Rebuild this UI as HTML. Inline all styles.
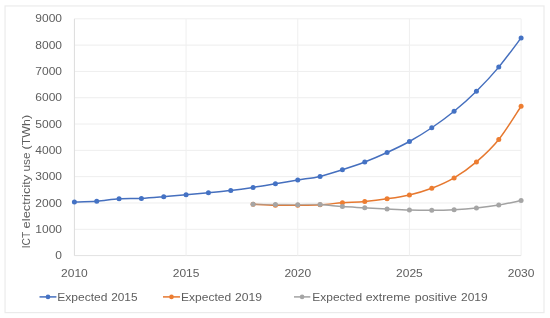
<!DOCTYPE html>
<html><head><meta charset="utf-8"><title>chart</title>
<style>
html,body{margin:0;padding:0;background:#fff;}
body{width:550px;height:318px;overflow:hidden;}
svg{display:block;filter:blur(0.35px);}
.t{font-family:"Liberation Sans",sans-serif;font-size:11.8px;fill:#5e5e5e;}
</style></head><body>
<svg width="550" height="318" viewBox="0 0 550 318">
<rect x="0" y="0" width="550" height="318" fill="#ffffff"/>
<rect x="5.05" y="5.95" width="538.95" height="306.65" fill="#fff" stroke="#ebebeb" stroke-width="1.2"/>
<line x1="74.40" y1="255.60" x2="521.10" y2="255.60" stroke="#e2e2e2" stroke-width="1"/>
<line x1="74.40" y1="229.29" x2="521.10" y2="229.29" stroke="#eeeeee" stroke-width="1"/>
<line x1="74.40" y1="202.98" x2="521.10" y2="202.98" stroke="#eeeeee" stroke-width="1"/>
<line x1="74.40" y1="176.67" x2="521.10" y2="176.67" stroke="#eeeeee" stroke-width="1"/>
<line x1="74.40" y1="150.36" x2="521.10" y2="150.36" stroke="#eeeeee" stroke-width="1"/>
<line x1="74.40" y1="124.04" x2="521.10" y2="124.04" stroke="#eeeeee" stroke-width="1"/>
<line x1="74.40" y1="97.73" x2="521.10" y2="97.73" stroke="#eeeeee" stroke-width="1"/>
<line x1="74.40" y1="71.42" x2="521.10" y2="71.42" stroke="#eeeeee" stroke-width="1"/>
<line x1="74.40" y1="45.11" x2="521.10" y2="45.11" stroke="#eeeeee" stroke-width="1"/>
<line x1="74.40" y1="18.80" x2="521.10" y2="18.80" stroke="#eeeeee" stroke-width="1"/>
<line x1="74.40" y1="18.80" x2="74.40" y2="255.60" stroke="#dcdcdc" stroke-width="1"/>
<line x1="186.07" y1="18.80" x2="186.07" y2="255.60" stroke="#efefef" stroke-width="1"/>
<line x1="297.75" y1="18.80" x2="297.75" y2="255.60" stroke="#efefef" stroke-width="1"/>
<line x1="409.43" y1="18.80" x2="409.43" y2="255.60" stroke="#efefef" stroke-width="1"/>
<line x1="521.10" y1="18.80" x2="521.10" y2="255.60" stroke="#efefef" stroke-width="1"/>
<text x="55.33" y="259.20" class="t" textLength="6.67" lengthAdjust="spacingAndGlyphs">0</text>
<text x="35.30" y="232.89" class="t" textLength="26.70" lengthAdjust="spacingAndGlyphs">1000</text>
<text x="35.30" y="206.58" class="t" textLength="26.70" lengthAdjust="spacingAndGlyphs">2000</text>
<text x="35.30" y="180.27" class="t" textLength="26.70" lengthAdjust="spacingAndGlyphs">3000</text>
<text x="35.30" y="153.96" class="t" textLength="26.70" lengthAdjust="spacingAndGlyphs">4000</text>
<text x="35.30" y="127.64" class="t" textLength="26.70" lengthAdjust="spacingAndGlyphs">5000</text>
<text x="35.30" y="101.33" class="t" textLength="26.70" lengthAdjust="spacingAndGlyphs">6000</text>
<text x="35.30" y="75.02" class="t" textLength="26.70" lengthAdjust="spacingAndGlyphs">7000</text>
<text x="35.30" y="48.71" class="t" textLength="26.70" lengthAdjust="spacingAndGlyphs">8000</text>
<text x="35.30" y="22.40" class="t" textLength="26.70" lengthAdjust="spacingAndGlyphs">9000</text>
<text x="61.05" y="277.4" class="t" textLength="26.7" lengthAdjust="spacingAndGlyphs">2010</text>
<text x="172.72" y="277.4" class="t" textLength="26.7" lengthAdjust="spacingAndGlyphs">2015</text>
<text x="284.40" y="277.4" class="t" textLength="26.7" lengthAdjust="spacingAndGlyphs">2020</text>
<text x="396.08" y="277.4" class="t" textLength="26.7" lengthAdjust="spacingAndGlyphs">2025</text>
<text x="507.75" y="277.4" class="t" textLength="26.7" lengthAdjust="spacingAndGlyphs">2030</text>
<g transform="translate(30.4,247.4) rotate(-90)"><text x="-0.90" y="0" class="t" style="font-size:11.8px" textLength="16.40" lengthAdjust="spacingAndGlyphs">ICT</text><text x="19.00" y="0" class="t" style="font-size:11.8px" textLength="53.70" lengthAdjust="spacingAndGlyphs">electricity</text><text x="76.00" y="0" class="t" style="font-size:11.8px" textLength="18.90" lengthAdjust="spacingAndGlyphs">use</text><text x="97.90" y="0" class="t" style="font-size:11.8px" textLength="34.60" lengthAdjust="spacingAndGlyphs">(TWh)</text></g>
<path d="M74.40,202.00 C78.12,201.87 89.29,201.72 96.74,201.19 C104.18,200.65 111.62,199.26 119.07,198.79 C126.52,198.33 133.96,198.74 141.41,198.40 C148.85,198.06 156.30,197.36 163.74,196.74 C171.19,196.12 178.63,195.37 186.07,194.69 C193.52,194.01 200.97,193.35 208.41,192.64 C215.86,191.92 223.30,191.27 230.75,190.40 C238.19,189.53 245.64,188.50 253.08,187.40 C260.53,186.30 267.97,185.03 275.42,183.80 C282.86,182.56 290.31,181.24 297.75,180.01 C305.19,178.78 312.64,178.12 320.09,176.40 C327.53,174.68 334.98,172.09 342.42,169.69 C349.87,167.30 357.31,164.88 364.75,162.01 C372.20,159.14 379.65,155.91 387.09,152.49 C394.54,149.07 401.98,145.61 409.43,141.49 C416.87,137.37 424.31,132.79 431.76,127.75 C439.20,122.72 446.65,117.35 454.10,111.26 C461.54,105.17 468.99,98.57 476.43,91.21 C483.88,83.85 491.32,75.99 498.77,67.11 C506.21,58.22 517.38,42.77 521.10,37.90" fill="none" stroke="#456fbe" stroke-width="1.5" stroke-linecap="round"/>
<circle cx="74.40" cy="202.00" r="2.5" fill="#4472c4"/>
<circle cx="96.74" cy="201.19" r="2.5" fill="#4472c4"/>
<circle cx="119.07" cy="198.79" r="2.5" fill="#4472c4"/>
<circle cx="141.41" cy="198.40" r="2.5" fill="#4472c4"/>
<circle cx="163.74" cy="196.74" r="2.5" fill="#4472c4"/>
<circle cx="186.07" cy="194.69" r="2.5" fill="#4472c4"/>
<circle cx="208.41" cy="192.64" r="2.5" fill="#4472c4"/>
<circle cx="230.75" cy="190.40" r="2.5" fill="#4472c4"/>
<circle cx="253.08" cy="187.40" r="2.5" fill="#4472c4"/>
<circle cx="275.42" cy="183.80" r="2.5" fill="#4472c4"/>
<circle cx="297.75" cy="180.01" r="2.5" fill="#4472c4"/>
<circle cx="320.09" cy="176.40" r="2.5" fill="#4472c4"/>
<circle cx="342.42" cy="169.69" r="2.5" fill="#4472c4"/>
<circle cx="364.75" cy="162.01" r="2.5" fill="#4472c4"/>
<circle cx="387.09" cy="152.49" r="2.5" fill="#4472c4"/>
<circle cx="409.43" cy="141.49" r="2.5" fill="#4472c4"/>
<circle cx="431.76" cy="127.75" r="2.5" fill="#4472c4"/>
<circle cx="454.10" cy="111.26" r="2.5" fill="#4472c4"/>
<circle cx="476.43" cy="91.21" r="2.5" fill="#4472c4"/>
<circle cx="498.77" cy="67.11" r="2.5" fill="#4472c4"/>
<circle cx="521.10" cy="37.90" r="2.5" fill="#4472c4"/>

<path d="M253.08,204.19 C256.80,204.35 267.97,205.02 275.42,205.19 C282.86,205.35 290.31,205.27 297.75,205.19 C305.19,205.10 312.64,205.09 320.09,204.69 C327.53,204.29 334.98,203.34 342.42,202.79 C349.87,202.25 357.31,202.07 364.75,201.40 C372.20,200.73 379.65,199.87 387.09,198.79 C394.54,197.72 401.98,196.70 409.43,194.95 C416.87,193.20 424.31,191.14 431.76,188.30 C439.20,185.45 446.65,182.30 454.10,177.90 C461.54,173.50 468.99,168.31 476.43,161.91 C483.88,155.50 491.32,148.76 498.77,139.49 C506.21,130.21 517.38,111.80 521.10,106.26" fill="none" stroke="#e6782f" stroke-width="1.5" stroke-linecap="round"/>
<circle cx="253.08" cy="204.19" r="2.5" fill="#ed7d31"/>
<circle cx="275.42" cy="205.19" r="2.5" fill="#ed7d31"/>
<circle cx="297.75" cy="205.19" r="2.5" fill="#ed7d31"/>
<circle cx="320.09" cy="204.69" r="2.5" fill="#ed7d31"/>
<circle cx="342.42" cy="202.79" r="2.5" fill="#ed7d31"/>
<circle cx="364.75" cy="201.40" r="2.5" fill="#ed7d31"/>
<circle cx="387.09" cy="198.79" r="2.5" fill="#ed7d31"/>
<circle cx="409.43" cy="194.95" r="2.5" fill="#ed7d31"/>
<circle cx="431.76" cy="188.30" r="2.5" fill="#ed7d31"/>
<circle cx="454.10" cy="177.90" r="2.5" fill="#ed7d31"/>
<circle cx="476.43" cy="161.91" r="2.5" fill="#ed7d31"/>
<circle cx="498.77" cy="139.49" r="2.5" fill="#ed7d31"/>
<circle cx="521.10" cy="106.26" r="2.5" fill="#ed7d31"/>

<path d="M253.08,204.19 C256.80,204.24 267.97,204.42 275.42,204.50 C282.86,204.59 290.31,204.67 297.75,204.69 C305.19,204.71 312.64,204.29 320.09,204.61" fill="none" stroke="#a2a2a2" stroke-width="1.5" stroke-linecap="round" opacity="0.62"/>
<path d="M320.09,204.61 C327.53,204.93 334.98,206.08 342.42,206.61 C349.87,207.14 357.31,207.39 364.75,207.79 C372.20,208.19 379.65,208.63 387.09,209.00 C394.54,209.37 401.98,209.79 409.43,210.00 C416.87,210.21 424.31,210.32 431.76,210.27 C439.20,210.21 446.65,210.04 454.10,209.66 C461.54,209.28 468.99,208.76 476.43,208.00 C483.88,207.24 491.32,206.34 498.77,205.11 C506.21,203.88 517.38,201.36 521.10,200.61" fill="none" stroke="#a2a2a2" stroke-width="1.5" stroke-linecap="round"/>
<circle cx="253.08" cy="204.19" r="2.5" fill="#a5a5a5"/>
<circle cx="275.42" cy="204.50" r="2.5" fill="#a5a5a5"/>
<circle cx="297.75" cy="204.69" r="2.5" fill="#a5a5a5"/>
<circle cx="320.09" cy="204.61" r="2.5" fill="#a5a5a5"/>
<circle cx="342.42" cy="206.61" r="2.5" fill="#a5a5a5"/>
<circle cx="364.75" cy="207.79" r="2.5" fill="#a5a5a5"/>
<circle cx="387.09" cy="209.00" r="2.5" fill="#a5a5a5"/>
<circle cx="409.43" cy="210.00" r="2.5" fill="#a5a5a5"/>
<circle cx="431.76" cy="210.27" r="2.5" fill="#a5a5a5"/>
<circle cx="454.10" cy="209.66" r="2.5" fill="#a5a5a5"/>
<circle cx="476.43" cy="208.00" r="2.5" fill="#a5a5a5"/>
<circle cx="498.77" cy="205.11" r="2.5" fill="#a5a5a5"/>
<circle cx="521.10" cy="200.61" r="2.5" fill="#a5a5a5"/>

<line x1="39.5" y1="296.9" x2="56.4" y2="296.9" stroke="#456fbe" stroke-width="1.5"/><circle cx="48.0" cy="296.9" r="2.3" fill="#4472c4"/><text x="57.30" y="301" class="t" textLength="50.15" lengthAdjust="spacingAndGlyphs">Expected</text><text x="111.15" y="301" class="t" textLength="26.35" lengthAdjust="spacingAndGlyphs">2015</text>
<line x1="163.0" y1="296.9" x2="180.0" y2="296.9" stroke="#e6782f" stroke-width="1.5"/><circle cx="171.5" cy="296.9" r="2.3" fill="#ed7d31"/><text x="181.10" y="301" class="t" textLength="50.05" lengthAdjust="spacingAndGlyphs">Expected</text><text x="234.95" y="301" class="t" textLength="26.95" lengthAdjust="spacingAndGlyphs">2019</text>
<line x1="294.0" y1="296.9" x2="310.3" y2="296.9" stroke="#a2a2a2" stroke-width="1.5"/><circle cx="302.1" cy="296.9" r="2.3" fill="#a5a5a5"/><text x="312.30" y="301" class="t" textLength="49.85" lengthAdjust="spacingAndGlyphs">Expected</text><text x="365.65" y="301" class="t" textLength="44.80" lengthAdjust="spacingAndGlyphs">extreme</text><text x="414.75" y="301" class="t" textLength="42.10" lengthAdjust="spacingAndGlyphs">positive</text><text x="461.05" y="301" class="t" textLength="26.65" lengthAdjust="spacingAndGlyphs">2019</text>
</svg>
</body></html>
